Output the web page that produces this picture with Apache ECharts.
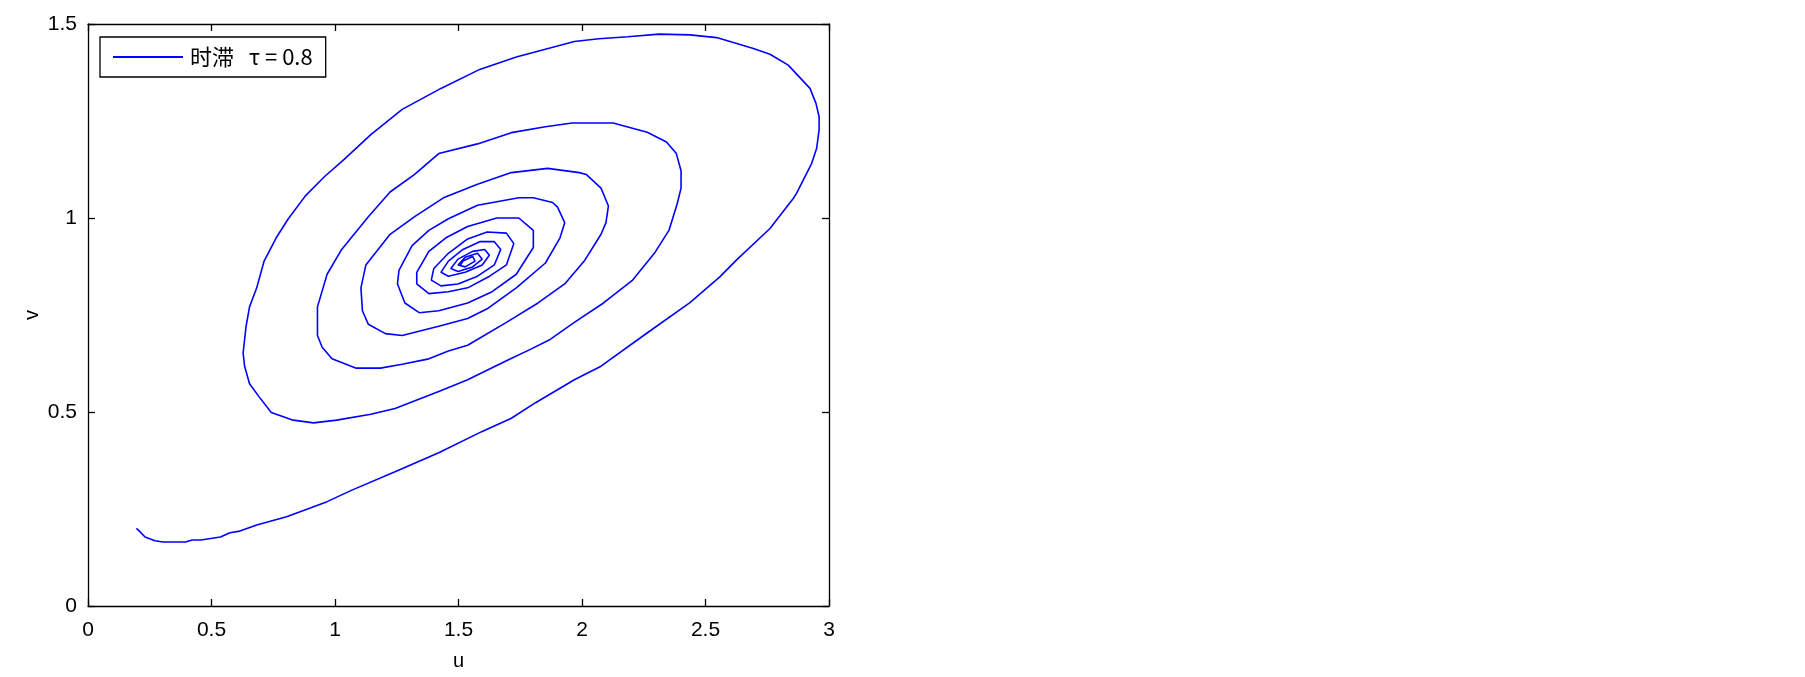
<!DOCTYPE html>
<html>
<head>
    <meta charset="utf-8">
    <script type="text/javascript" src="https://cdn.jsdelivr.net/npm/echarts@6/dist/echarts.min.js"></script>
</head>
<body style="margin:0;background:#fff;">
<div id="main" style="width:1805px;height:677px;"></div>
<script type="text/javascript">
    // 相轨线 (u, v)，从 (0.2, 0.2) 出发螺旋收敛到平衡点
    var uValues = [
        0.196, 0.205, 0.231, 0.271, 0.304, 0.395, 0.422, 0.457, 0.536, 0.575,
        0.615, 0.683, 0.804, 0.968, 1.066, 1.243, 1.420, 1.596, 1.714, 1.812,
        1.969, 2.077, 2.262, 2.437, 2.559, 2.626, 2.761, 2.856, 2.869, 2.930,
        2.950, 2.960, 2.960, 2.947, 2.923, 2.835, 2.761, 2.694, 2.545, 2.437,
        2.313, 2.185, 2.068, 1.969, 1.734, 1.586, 1.429, 1.272, 1.145, 1.037,
        0.958, 0.880, 0.811, 0.762, 0.713, 0.683, 0.654, 0.640, 0.628, 0.634,
        0.654, 0.693, 0.742, 0.831, 0.913, 1.007, 1.145, 1.243, 1.420, 1.537,
        1.694, 1.793, 1.871, 1.969, 2.087, 2.205, 2.293, 2.352, 2.386, 2.401,
        2.401, 2.382, 2.342, 2.264, 2.126, 1.960, 1.852, 1.714, 1.577, 1.420,
        1.321, 1.223, 1.135, 1.027, 0.968, 0.929, 0.929, 0.948, 0.988, 1.086,
        1.184, 1.272, 1.380, 1.459, 1.537, 1.694, 1.822, 1.930, 2.009, 2.077,
        2.097, 2.107, 2.077, 2.018, 1.989, 1.861, 1.714, 1.577, 1.439, 1.321,
        1.223, 1.125, 1.105, 1.111, 1.135, 1.204, 1.272, 1.420, 1.537, 1.616,
        1.734, 1.852, 1.911, 1.930, 1.901, 1.881, 1.803, 1.744, 1.577, 1.459,
        1.380, 1.312, 1.259, 1.253, 1.283, 1.341, 1.420, 1.537, 1.636, 1.734,
        1.803, 1.803, 1.744, 1.655, 1.537, 1.449, 1.380, 1.331, 1.331, 1.380,
        1.459, 1.537, 1.626, 1.694, 1.724, 1.694, 1.616, 1.537, 1.459, 1.400,
        1.390, 1.429, 1.498, 1.577, 1.645, 1.671, 1.645, 1.586, 1.518, 1.459,
        1.429, 1.459, 1.527, 1.596, 1.625, 1.606, 1.557, 1.498, 1.469, 1.498,
        1.557, 1.596, 1.577, 1.527, 1.498, 1.527, 1.567, 1.557, 1.518, 1.508
    ];
    var vValues = [
        0.200, 0.195, 0.178, 0.168, 0.165, 0.165, 0.170, 0.170, 0.178, 0.189,
        0.193, 0.209, 0.230, 0.269, 0.298, 0.346, 0.395, 0.450, 0.484, 0.524,
        0.583, 0.618, 0.703, 0.782, 0.849, 0.892, 0.973, 1.051, 1.064, 1.141,
        1.180, 1.227, 1.261, 1.296, 1.334, 1.394, 1.422, 1.437, 1.465, 1.472,
        1.474, 1.467, 1.462, 1.455, 1.415, 1.383, 1.334, 1.280, 1.215, 1.151,
        1.107, 1.057, 0.998, 0.949, 0.889, 0.820, 0.771, 0.721, 0.652, 0.618,
        0.573, 0.539, 0.499, 0.479, 0.472, 0.479, 0.494, 0.509, 0.553, 0.583,
        0.632, 0.662, 0.687, 0.731, 0.781, 0.840, 0.909, 0.968, 1.038, 1.077,
        1.122, 1.166, 1.196, 1.221, 1.245, 1.245, 1.235, 1.220, 1.191, 1.166,
        1.112, 1.067, 1.003, 0.919, 0.855, 0.771, 0.697, 0.667, 0.637, 0.613,
        0.613, 0.623, 0.637, 0.657, 0.672, 0.731, 0.781, 0.830, 0.889, 0.958,
        0.988, 1.031, 1.077, 1.112, 1.117, 1.128, 1.117, 1.087, 1.052, 1.003,
        0.958, 0.879, 0.820, 0.761, 0.726, 0.702, 0.697, 0.721, 0.741, 0.766,
        0.820, 0.884, 0.949, 0.988, 1.028, 1.040, 1.052, 1.052, 1.033, 0.998,
        0.968, 0.929, 0.865, 0.830, 0.781, 0.756, 0.761, 0.781, 0.810, 0.855,
        0.924, 0.968, 1.000, 1.000, 0.978, 0.949, 0.914, 0.860, 0.830, 0.805,
        0.810, 0.820, 0.850, 0.879, 0.934, 0.961, 0.964, 0.946, 0.909, 0.870,
        0.840, 0.825, 0.830, 0.850, 0.879, 0.919, 0.939, 0.939, 0.919, 0.889,
        0.860, 0.850, 0.860, 0.879, 0.904, 0.919, 0.914, 0.894, 0.870, 0.862,
        0.874, 0.894, 0.909, 0.899, 0.879, 0.874, 0.889, 0.901, 0.889, 0.879
    ];
    var seriesName = '时滞   τ = 0.8';
    var xRange = [0, 3];
    var yRange = [0, 1.5];
    var tickStep = 0.5;

    var points = [];
    for (var i = 0; i < Math.min(uValues.length, vValues.length); i++) {
        points.push([uValues[i], vValues[i]]);
    }

    var labelFont = '"Liberation Sans", sans-serif';
    var myChart = echarts.init(document.getElementById('main'));

    function axis(pos, showLabel, name) {
        var horiz = pos === 'bottom' || pos === 'top';
        return {
            type: 'value',
            position: pos,
            min: horiz ? xRange[0] : yRange[0],
            max: horiz ? xRange[1] : yRange[1],
            interval: tickStep,
            name: name || '',
            nameLocation: 'middle',
            nameGap: horiz ? 45 : 46,
            nameRotate: horiz ? 0 : 90,
            nameTextStyle: {color: '#000', fontSize: 20, fontFamily: labelFont},
            axisLine: {show: true, onZero: false, lineStyle: {color: '#000', width: 1.3}},
            axisTick: {show: true, inside: true, length: 7, lineStyle: {color: '#000', width: 1.3}},
            axisLabel: {show: showLabel, color: '#000', fontSize: 21, fontFamily: labelFont,
                        margin: horiz ? 14 : 11},
            splitLine: {show: false}
        };
    }

    var option = {
        backgroundColor: '#fff',
        animation: false,
        grid: {left: 88, right: 976, top: 24, bottom: 71},
        legend: {
            left: 100,
            top: 37,
            padding: [9, 13, 9, 13],
            borderColor: '#000',
            borderWidth: 1.3,
            icon: 'rect',
            itemWidth: 70,
            itemHeight: 2,
            itemGap: 0,
            textStyle: {color: '#000', fontSize: 22, fontFamily: '"Noto Sans CJK SC", "Liberation Sans"',
                        padding: [0, 0, 0, 2]},
            data: [seriesName]
        },
        xAxis: [axis('bottom', true, 'u'), axis('top', false)],
        yAxis: [axis('left', true, 'v'), axis('right', false)],
        series: [{
            name: seriesName,
            type: 'line',
            symbol: 'none',
            showSymbol: false,
            smooth: false,
            lineStyle: {color: '#0000ff', width: 1.6},
            itemStyle: {color: '#0000ff'},
            data: points
        }]
    };
    myChart.setOption(option);
</script>
</body>
</html>
